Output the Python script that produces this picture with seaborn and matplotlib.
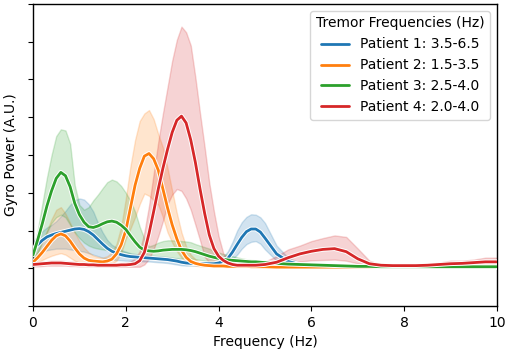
import numpy as np
import pandas as pd
import matplotlib
matplotlib.use("Agg")
import matplotlib.pyplot as plt
import matplotlib.patheffects as pe
import seaborn as sns

# frequency grid (Hz)
freq = np.concatenate([np.round(np.arange(0, 5.001, 0.1), 2),
                       np.round(np.arange(5.25, 10.001, 0.25), 2)])

patients = ["Patient 1: 3.5-6.5", "Patient 2: 1.5-3.5",
            "Patient 3: 2.5-4.0", "Patient 4: 2.0-4.0"]

p1_mean = [0.50,0.62,0.74,0.83,0.88,0.92,0.95,0.98,1.01,1.04,
           1.05,1.03,0.97,0.88,0.76,0.64,0.53,0.45,0.40,0.36,
           0.33,0.31,0.30,0.29,0.28,0.27,0.26,0.25,0.24,0.23,
           0.21,0.19,0.16,0.14,0.13,0.12,0.12,0.12,0.12,0.12,
           0.14,0.18,0.26,0.43,0.63,0.82,0.97,1.04,1.04,0.96,
           0.80,
           0.38,0.18,0.10,0.07,0.05,0.04,0.04,0.03,0.03,0.03,
           0.03,0.03,0.03,0.03,0.03,0.03,0.03,0.03,0.03,0.03]
p1_hi = [0.70,0.85,0.98,1.08,1.15,1.25,1.38,1.52,1.68,1.80,
         1.85,1.82,1.70,1.50,1.20,0.95,0.75,0.62,0.55,0.48,
         0.44,0.40,0.38,0.36,0.35,0.34,0.33,0.32,0.31,0.30,
         0.28,0.26,0.23,0.20,0.18,0.17,0.16,0.16,0.16,0.17,
         0.22,0.30,0.45,0.70,1.00,1.22,1.36,1.43,1.42,1.35,
         1.20,
         0.60,0.28,0.15,0.10,0.08,0.06,0.05,0.05,0.05,0.05,
         0.05,0.05,0.05,0.05,0.05,0.05,0.05,0.05,0.05,0.05]
p1_lo = [0.30,0.38,0.44,0.48,0.50,0.52,0.52,0.52,0.50,0.48,
         0.46,0.44,0.40,0.36,0.32,0.28,0.25,0.23,0.22,0.21,
         0.20,0.20,0.19,0.19,0.18,0.18,0.17,0.16,0.15,0.14,
         0.12,0.10,0.08,0.07,0.07,0.07,0.07,0.07,0.07,0.07,
         0.08,0.10,0.14,0.24,0.36,0.52,0.64,0.70,0.72,0.65,
         0.50,
         0.20,0.10,0.06,0.04,0.03,0.02,0.02,0.02,0.02,0.02,
         0.02,0.02,0.02,0.02,0.02,0.02,0.02,0.02,0.02,0.02]

p2_mean = [0.16,0.28,0.42,0.58,0.74,0.86,0.91,0.86,0.72,0.54,
           0.38,0.27,0.21,0.19,0.18,0.17,0.19,0.24,0.38,0.62,
           1.00,1.60,2.20,2.65,2.97,3.04,2.90,2.60,2.10,1.60,
           1.15,0.78,0.48,0.29,0.18,0.13,0.10,0.08,0.07,0.06,
           0.06,0.06,0.05,0.05,0.05,0.05,0.05,0.04,0.04,0.04,
           0.04,
           0.03,0.03,0.03,0.03,0.03,0.03,0.03,0.03,0.03,0.03,
           0.03,0.03,0.03,0.03,0.03,0.03,0.03,0.03,0.03,0.03]
p2_hi = [0.25,0.45,0.70,1.00,1.30,1.55,1.62,1.45,1.20,0.95,
         0.72,0.55,0.42,0.34,0.30,0.28,0.32,0.42,0.65,1.10,
         1.85,2.70,3.40,3.90,4.10,4.19,3.95,3.55,3.20,2.65,
         2.05,1.46,0.95,0.58,0.36,0.24,0.17,0.13,0.11,0.10,
         0.09,0.09,0.08,0.08,0.08,0.07,0.07,0.07,0.07,0.07,
         0.07,
         0.05,0.05,0.05,0.05,0.05,0.05,0.05,0.05,0.05,0.05,
         0.05,0.05,0.05,0.05,0.05,0.05,0.05,0.05,0.05,0.05]
p2_lo = [0.08,0.14,0.22,0.28,0.33,0.37,0.40,0.36,0.28,0.20,
         0.14,0.10,0.08,0.08,0.08,0.08,0.09,0.12,0.20,0.40,
         0.78,1.05,1.35,1.70,1.98,1.92,1.80,1.68,1.35,0.95,
         0.68,0.45,0.28,0.15,0.10,0.07,0.05,0.05,0.04,0.04,
         0.04,0.04,0.03,0.03,0.03,0.03,0.03,0.02,0.02,0.02,
         0.02,
         0.02,0.02,0.02,0.02,0.02,0.02,0.02,0.02,0.02,0.02,
         0.02,0.02,0.02,0.02,0.02,0.02,0.02,0.02,0.02,0.02]

p3_mean = [0.35,0.75,1.18,1.65,2.05,2.38,2.54,2.45,2.16,1.72,
           1.42,1.22,1.10,1.08,1.12,1.18,1.23,1.25,1.22,1.14,
           1.03,0.86,0.70,0.56,0.48,0.46,0.45,0.46,0.48,0.49,
           0.50,0.50,0.50,0.49,0.47,0.44,0.40,0.36,0.32,0.29,
           0.26,0.24,0.22,0.21,0.20,0.19,0.18,0.17,0.17,0.16,
           0.15,
           0.13,0.11,0.10,0.09,0.08,0.07,0.06,0.05,0.05,0.04,
           0.04,0.04,0.04,0.04,0.04,0.04,0.04,0.04,0.04,0.04]
p3_hi = [0.48,1.00,1.70,2.40,3.00,3.50,3.68,3.65,3.30,2.20,
         1.68,1.55,1.62,1.80,1.95,2.12,2.28,2.35,2.30,2.18,
         2.00,1.78,1.50,1.10,0.78,0.58,0.62,0.68,0.72,0.74,
         0.74,0.73,0.72,0.71,0.69,0.64,0.60,0.56,0.52,0.46,
         0.42,0.38,0.35,0.32,0.29,0.26,0.24,0.22,0.21,0.20,
         0.19,
         0.16,0.14,0.12,0.11,0.10,0.09,0.08,0.07,0.06,0.06,
         0.06,0.05,0.05,0.05,0.05,0.05,0.05,0.05,0.05,0.05]
p3_lo = [0.15,0.40,0.70,0.95,1.20,1.35,1.42,1.35,1.15,0.95,
         0.80,0.68,0.60,0.55,0.52,0.50,0.48,0.47,0.46,0.44,
         0.42,0.38,0.34,0.30,0.28,0.27,0.27,0.27,0.27,0.27,
         0.27,0.27,0.27,0.27,0.26,0.24,0.22,0.20,0.18,0.16,
         0.15,0.14,0.13,0.12,0.12,0.11,0.11,0.10,0.10,0.10,
         0.10,
         0.09,0.08,0.07,0.06,0.05,0.05,0.04,0.04,0.03,0.03,
         0.03,0.03,0.03,0.03,0.03,0.03,0.03,0.03,0.03,0.03]

p4_mean = [0.10,0.11,0.12,0.13,0.14,0.14,0.14,0.13,0.12,0.11,
           0.10,0.10,0.09,0.09,0.08,0.08,0.08,0.08,0.08,0.09,
           0.09,0.10,0.12,0.20,0.42,0.92,1.50,2.10,2.65,3.15,
           3.60,3.92,4.03,3.85,3.40,2.80,2.10,1.45,0.88,0.52,
           0.32,0.21,0.14,0.10,0.08,0.08,0.08,0.08,0.08,0.09,
           0.10,
           0.16,0.28,0.38,0.45,0.50,0.52,0.44,0.25,0.12,0.08,
           0.07,0.07,0.07,0.08,0.10,0.12,0.13,0.15,0.17,0.17]
p4_hi = [0.16,0.17,0.18,0.19,0.20,0.20,0.20,0.19,0.18,0.17,
         0.16,0.15,0.14,0.14,0.13,0.13,0.13,0.13,0.13,0.14,
         0.15,0.18,0.26,0.45,0.95,1.65,2.50,3.35,4.10,4.80,
         5.50,6.05,6.40,6.25,5.90,5.05,4.10,3.20,2.25,1.50,
         0.85,0.40,0.22,0.16,0.14,0.13,0.13,0.13,0.14,0.15,
         0.18,
         0.32,0.50,0.60,0.72,0.80,0.87,0.83,0.52,0.20,0.10,
         0.08,0.08,0.09,0.10,0.15,0.20,0.20,0.23,0.28,0.28]
p4_lo = [0.05,0.05,0.06,0.07,0.07,0.07,0.07,0.07,0.06,0.06,
         0.05,0.05,0.05,0.05,0.04,0.04,0.04,0.04,0.04,0.04,
         0.04,0.04,0.04,0.04,0.10,0.25,0.50,0.85,1.25,1.70,
         1.95,2.10,2.05,1.85,1.55,1.15,0.74,0.30,0.15,0.10,
         0.07,0.06,0.05,0.04,0.04,0.04,0.04,0.04,0.04,0.04,
         0.05,
         0.08,0.13,0.18,0.21,0.22,0.23,0.20,0.13,0.07,0.05,
         0.05,0.05,0.05,0.05,0.06,0.07,0.07,0.08,0.08,0.08]

means = [p1_mean, p2_mean, p3_mean, p4_mean]
his = [p1_hi, p2_hi, p3_hi, p4_hi]
los = [p1_lo, p2_lo, p3_lo, p4_lo]

df = pd.concat([pd.DataFrame({"freq": freq, "power": m, "patient": p})
                for m, p in zip(means, patients)], ignore_index=True)

sns.set_style("ticks")
plt.rcParams["font.family"] = ["DejaVu Sans"]
plt.rcParams["text.color"] = "black"
plt.rcParams["axes.labelcolor"] = "black"
plt.rcParams["xtick.color"] = "black"
plt.rcParams["ytick.color"] = "black"
palette = sns.color_palette("tab10", 4)

fig = plt.figure(figsize=(5.1, 3.53), dpi=100)
ax = fig.add_axes([0.0647, 0.1331, 0.9098, 0.8556])

for c, lo, hi in zip(palette, los, his):
    ax.fill_between(freq, lo, hi, color=c, alpha=0.2)

sns.lineplot(data=df, x="freq", y="power", hue="patient", palette=palette,
             errorbar=None, linewidth=2.0, ax=ax, zorder=5)
for line in ax.lines:
    line.set_path_effects([pe.Stroke(linewidth=3.4, foreground="white"), pe.Normal()])

ax.set_xlim(0, 10)
ax.set_ylim(-1, 7)
ax.set_yticks(np.arange(-1, 8, 1))
ax.set_yticklabels([])
ax.set_xticks([0, 2, 4, 6, 8, 10])
ax.set_xlabel("Frequency (Hz)", fontsize=10)
ax.set_ylabel("Gyro Power (A.U.)", fontsize=10)
ax.tick_params(labelsize=10, length=3.5)
for s in ax.spines.values():
    s.set_linewidth(1.0)
    s.set_color("black")

leg = ax.legend(title="Tremor Frequencies (Hz)", loc="upper right", fontsize=10,
                title_fontsize=10, frameon=True)
for h in leg.get_lines():
    h.set_path_effects([])
    h.set_linewidth(2.0)

fig.savefig("out.png", dpi=100)
